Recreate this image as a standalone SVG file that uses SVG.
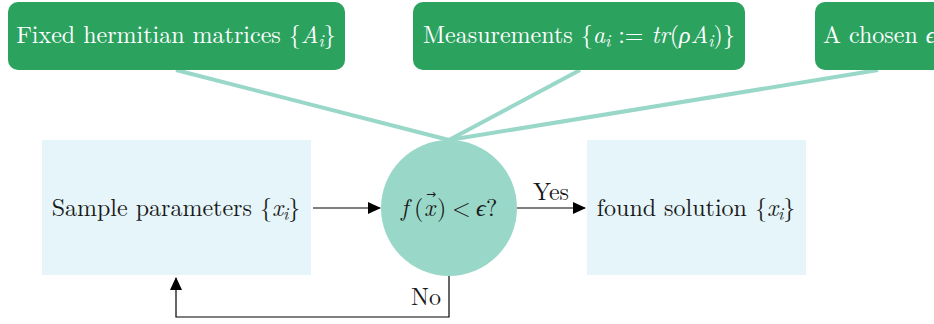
<svg xmlns="http://www.w3.org/2000/svg" width="934" height="324" viewBox="0 0 934 324">
<style>
text{font-family:"Latin Modern Roman","Liberation Serif","DejaVu Serif",serif;font-size:24px}
.g rect{fill:#2ca25f}
.g text{fill:#ffffff}
.b rect{fill:#e5f5f9}
.b text,.c text,.lbl{fill:#1a1a1a}
.i{font-style:italic}
.s{font-style:italic;font-size:17px}
.fan{stroke:#99d8c9;stroke-width:4;fill:none}
.arr{stroke:#000;stroke-width:1.2;fill:none}
</style>
<defs>
<marker id="ah" markerWidth="13" markerHeight="12" refX="12" refY="6" orient="auto" markerUnits="userSpaceOnUse">
<path d="M0,0 L13,6 L0,12 z" fill="#000"/>
</marker>
</defs>
<g id="connectors">
<line class="fan" x1="176" y1="70" x2="449" y2="140"/>
<line class="fan" x1="580" y1="70" x2="449" y2="140"/>
<line class="fan" x1="878" y1="70" x2="449" y2="140"/>
<line class="arr" x1="313" y1="208" x2="380" y2="208" marker-end="url(#ah)"/>
<line class="arr" x1="517" y1="208" x2="585" y2="208" marker-end="url(#ah)"/>
<text class="lbl" x="551" y="200" text-anchor="middle">Yes</text>
<polyline class="arr" points="449,276 449,317 176,317 176,278" marker-end="url(#ah)"/>
<text class="lbl" x="441" y="305" text-anchor="end">No</text>
</g>
<g id="fixed" class="g">
<rect x="8" y="2" width="337" height="68" rx="10"/>
<text x="176" y="43" text-anchor="middle">Fixed hermitian matrices {<tspan class="i">A</tspan><tspan class="s" dy="4">i</tspan><tspan dy="-4">}</tspan></text>
</g>
<g id="measure" class="g">
<rect x="413" y="2" width="332" height="68" rx="10"/>
<text x="579" y="43" text-anchor="middle">Measurements {<tspan class="i">a</tspan><tspan class="s" dy="4">i</tspan><tspan dy="-4"> := </tspan><tspan class="i">tr</tspan>(<tspan class="i">ρA</tspan><tspan class="s" dy="4">i</tspan><tspan dy="-4">)}</tspan></text>
</g>
<g id="epsilon" class="g">
<rect x="815" y="2" width="140" height="68" rx="10"/>
<text x="823" y="43">A chosen <tspan class="i">ϵ</tspan></text>
</g>
<g id="sample" class="b">
<rect x="42" y="140" width="269" height="135"/>
<text x="176" y="216" text-anchor="middle">Sample parameters {<tspan class="i">x</tspan><tspan class="s" dy="4">i</tspan><tspan dy="-4">}</tspan></text>
</g>
<g id="check" class="c">
<circle cx="449" cy="208" r="68" fill="#99d8c9"/>
<text y="216"><tspan class="i" x="401">f</tspan><tspan x="414">(</tspan><tspan class="i" x="424">x</tspan><tspan x="437">)</tspan><tspan x="452">&lt;</tspan><tspan class="i" x="476">ϵ</tspan><tspan x="486">?</tspan></text>
<text x="431" y="198" text-anchor="middle" style="font-family:'DejaVu Sans',sans-serif;font-size:12px">→</text>
</g>
<g id="found" class="b">
<rect x="587" y="140" width="219" height="135"/>
<text x="696" y="216" text-anchor="middle">found solution {<tspan class="i">x</tspan><tspan class="s" dy="4">i</tspan><tspan dy="-4">}</tspan></text>
</g>
</svg>
